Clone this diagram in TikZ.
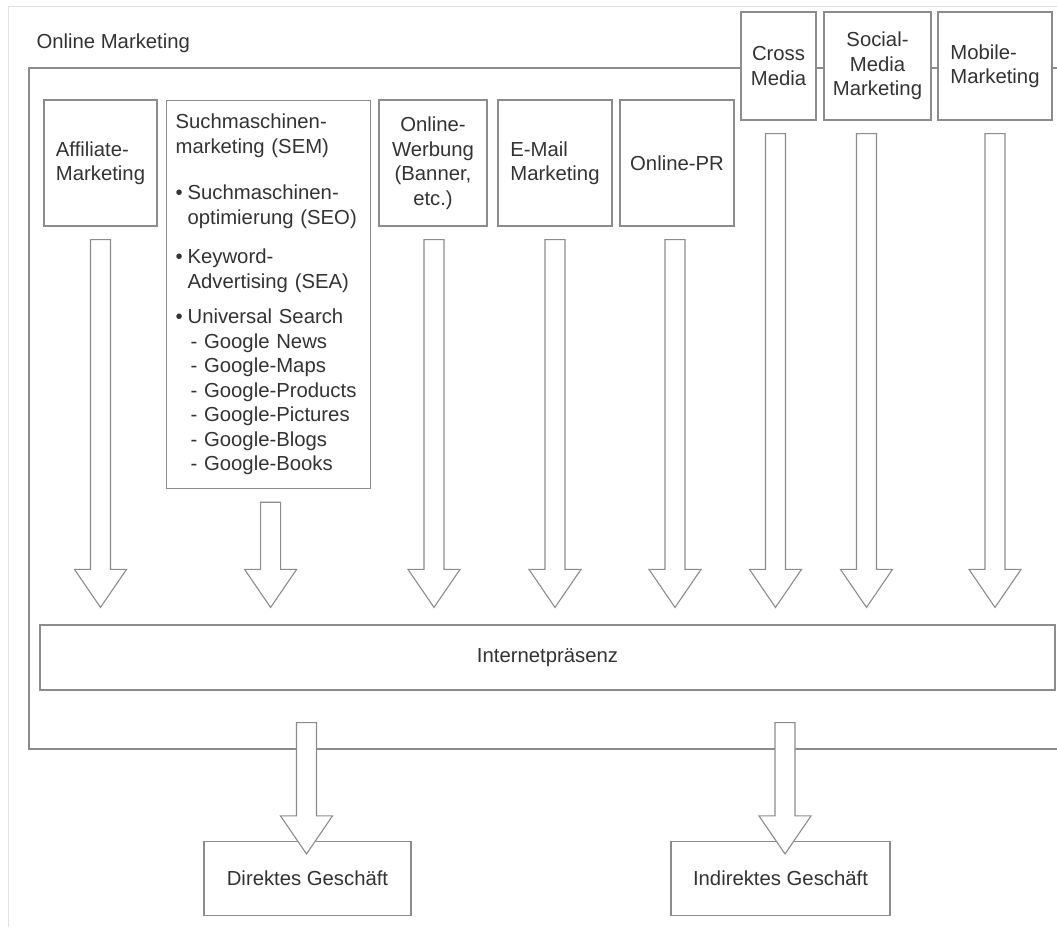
\documentclass[tikz,border=0pt]{standalone}
\usepackage{fontspec}
\setmainfont{Liberation Sans}
\usepackage{xcolor}
\usepackage{tikz}
\usetikzlibrary{positioning,calc}
\definecolor{LineGray}{HTML}{8C8C8C}
\definecolor{TextDark}{HTML}{333333}
\definecolor{EdgeFaint}{HTML}{E2E2E2}

% hollow block arrow from a start point down to a tip
\newcommand{\bigarrow}[2]{%
  \draw[fat] let \p1=#1, \p2=#2 in
    (\x1-10pt,\y1) -- (\x1+10pt,\y1) -- (\x1+10pt,\y2+38pt)
    -- (\x1+26pt,\y2+38pt) -- (\x1,\y2) -- (\x1-26pt,\y2+38pt)
    -- (\x1-10pt,\y2+38pt) -- cycle;}

\begin{document}
\begin{tikzpicture}[x=1pt,y=-1pt,
          every node/.style={font=\fontsize{20.3}{24.5}\selectfont, text=TextDark},
          box/.style={draw=LineGray, fill=white, line width=1.2pt, inner sep=0pt},
          fat/.style={draw=LineGray, fill=white, line width=1.1pt, line join=miter}]
        \fill[white] (0,0) rectangle (1057,927);
        \useasboundingbox (0,0) rectangle (1057,927);
        \draw[EdgeFaint, line width=1pt] (1057,6) -| (8,927);
        % outer frame
        \draw[LineGray, line width=1.2pt] (1057,68) -| (29,749) -- (1057,749);
        \node[anchor=base west] (om) at (33,48) {Online Marketing};
        % instruments
        \node[box, minimum width=113pt, minimum height=126pt, align=left]
        (aff) at (100.5,163) {Affiliate-\\Marketing};
        \node[box, anchor=north west, text width=186pt, inner xsep=9pt,
          minimum height=388pt, align=left]
        (sem) at (166,100)
        {Suchmaschinen-\\marketing (SEM)\\[22pt]
          \makebox[12pt][l]{•}Suchmaschinen-\\
          \hspace*{12pt}optimierung (SEO)\\[15pt]
          \makebox[12pt][l]{•}Keyword-\\
          \hspace*{12pt}Advertising (SEA)\\[11pt]
          \makebox[12pt][l]{•}Universal Search\\
          \hspace*{15pt}- Google News\\
          \hspace*{15pt}- Google-Maps\\
          \hspace*{15pt}- Google-Products\\
          \hspace*{15pt}- Google-Pictures\\
          \hspace*{15pt}- Google-Blogs\\
          \hspace*{15pt}- Google-Books};
        \node[box, minimum width=108pt, minimum height=126pt, align=center]
        (werb) at (433,163) {Online-\\Werbung\\(Banner,\\etc.)};
        \node[box, minimum width=114pt, minimum height=126pt, align=left]
        (mail) at (555,163) {E-Mail\\Marketing};
        \node[box, minimum width=114pt, minimum height=126pt]
        (pr) at (677,163) {Online-PR};
        \node[box, minimum width=75pt, minimum height=108pt, align=center]
        (cross) at (778.5,66) {Cross\\Media};
        \node[box, minimum width=107pt, minimum height=108pt, align=center]
        (soc) at (877.5,66) {Social-\\Media\\Marketing};
        \node[box, minimum width=114pt, minimum height=108pt, align=left]
        (mob) at (995,66) {Mobile-\\Marketing};
        % target and results
        \node[box, minimum width=1015pt, minimum height=65pt]
        (inet) at (547.5,657.5) {Internetpräsenz};
        \node[box, minimum width=207pt, minimum height=74pt]
        (direct) at (307.5,878.5) {Direktes Geschäft};
        \node[box, minimum width=219pt, minimum height=74pt]
        (indirect) at (780.5,878.5) {Indirektes Geschäft};
        % arrows
        \foreach \b/\dx in {aff/0,sem/2,werb/1,mail/0,pr/-2,cross/-3,soc/-11,mob/0}
          \bigarrow{($(\b.south)+(\dx,13)$)}{($(\b.south |- inet.north)+(\dx,-17)$)};
        \bigarrow{($(direct.north |- inet.south)+(-1,32)$)}{($(direct.north)+(-1,13)$)}
        \bigarrow{($(indirect.north |- inet.south)+(4.5,32)$)}{($(indirect.north)+(4.5,13)$)}
      \end{tikzpicture}
\end{document}
